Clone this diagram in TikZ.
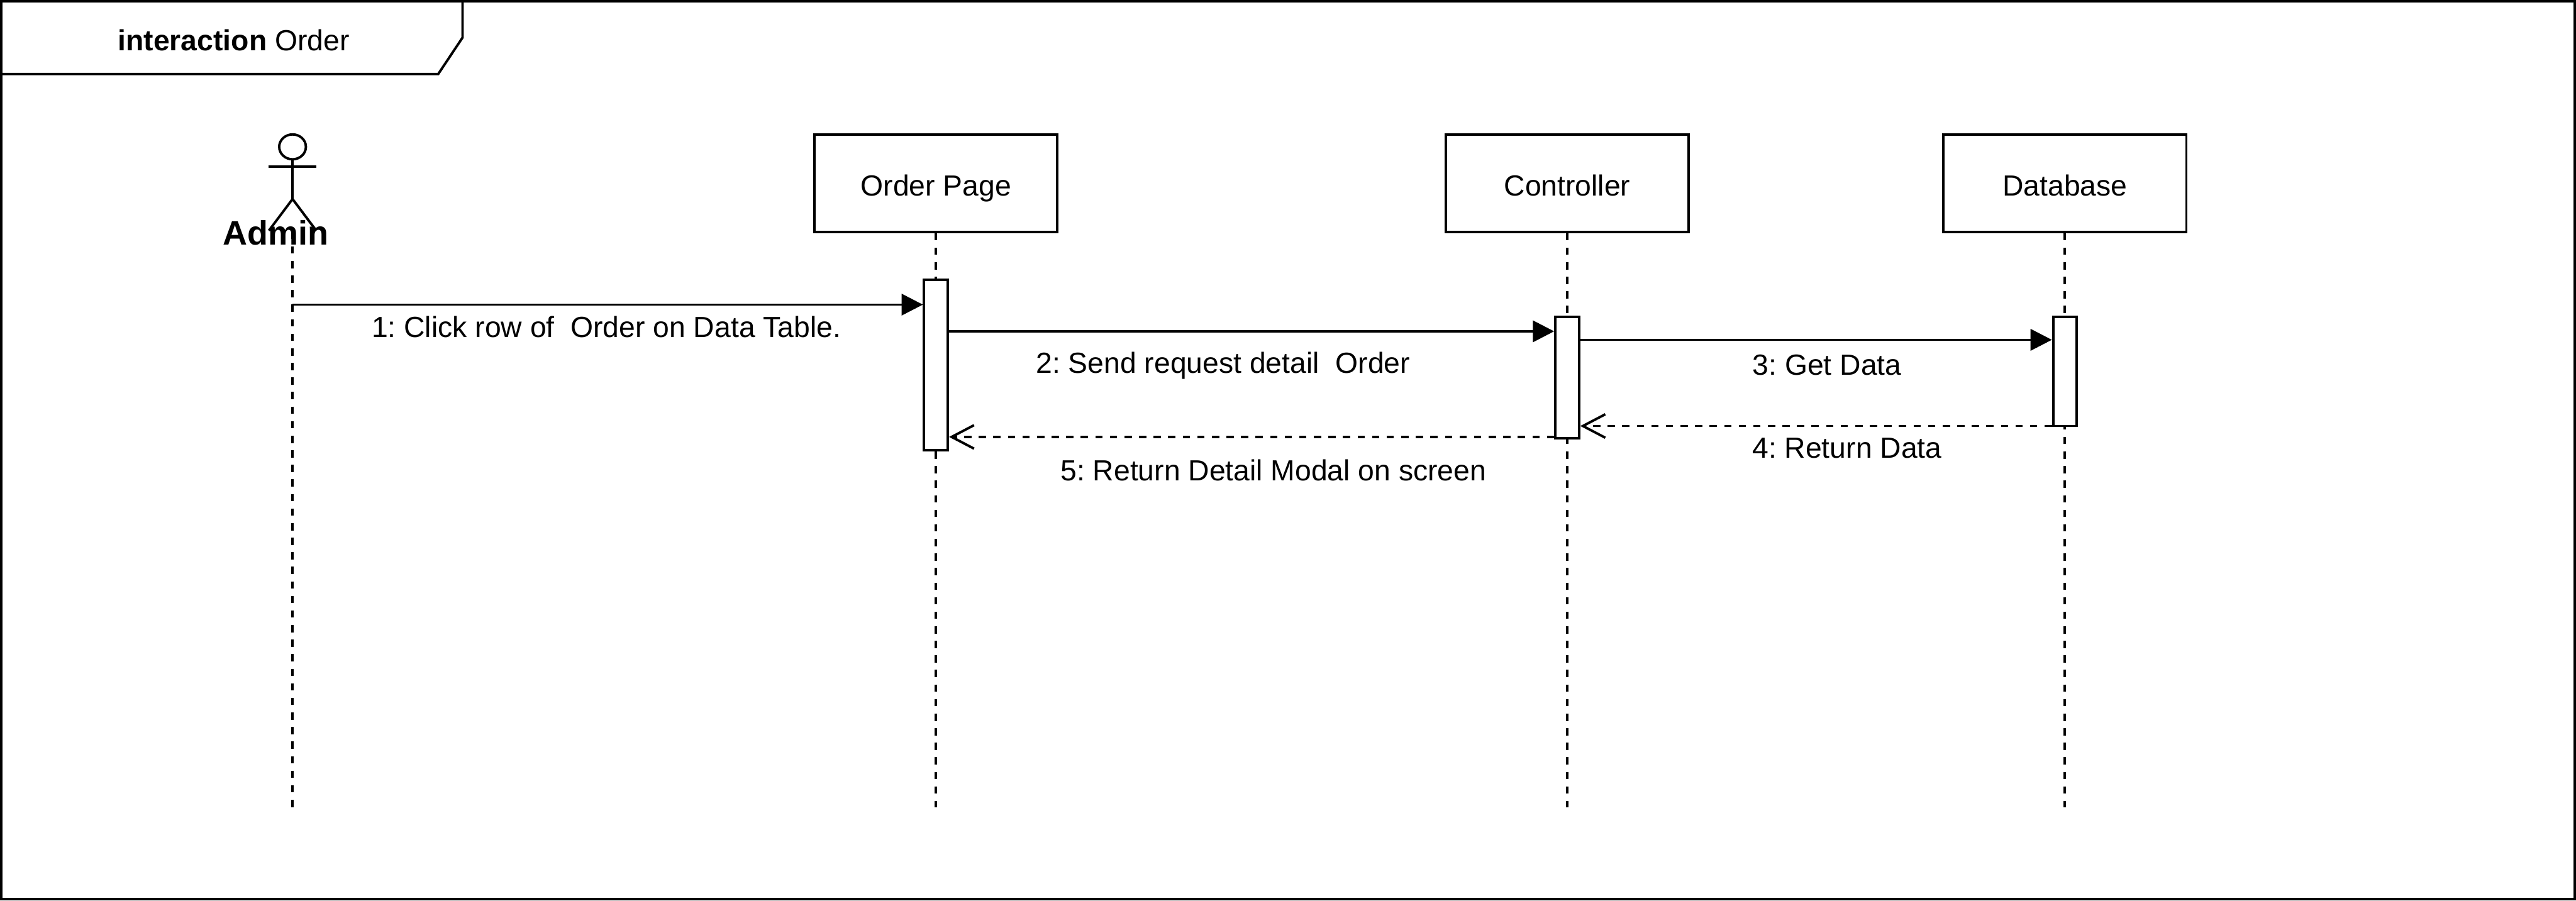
\documentclass[tikz,border=0pt]{standalone}
\usepackage{fontspec}
\setmainfont{Liberation Sans}
\usetikzlibrary{arrows.meta}
\frenchspacing

\begin{document}
\begin{tikzpicture}[
    line width=1.14pt,
    lifebox/.style={draw, rectangle, fill=white, minimum width=4.0cm, minimum height=1.60cm, inner sep=0pt, text height=0.52cm, text depth=0.1cm, font=\fontsize{13.65}{16}\selectfont},
    activation/.style={draw, rectangle, fill=white, minimum width=0.39cm, inner sep=0pt},
    lifeline/.style={dash pattern=on 0.12cm off 0.12cm},
    msglabel/.style={anchor=base, inner sep=0pt, font=\fontsize{13.65}{16}\selectfont},
    callmsg/.style={-{Triangle[length=10pt, width=10pt]}},
    returnmsg/.style={-{Straight Barb[length=10.5pt, width=11pt, line width=1.14pt]}, dash pattern=on 0.12cm off 0.12cm},
]
\useasboundingbox (0, 0) rectangle (42.44, -14.84);

% Frame
\draw (0.02, -0.02) rectangle (42.42, -14.82);
\draw (0.02, -1.22) -- (7.22, -1.22) -- (7.62, -0.62) -- (7.62, -0.02);
\node[msglabel] (frametitle) at (3.85, -0.83) {\textbf{interaction} Order};

% Actor
\draw (4.82, -2.42) ellipse (0.22 and 0.205);
\draw (4.82, -2.625) -- (4.82, -3.28);
\draw (4.42, -2.75) -- (5.21, -2.75);
\draw (4.43, -3.80) -- (4.82, -3.28) -- (5.21, -3.80);

% Lifelines
\coordinate (adminTop) at (4.82, -3.82);
\coordinate (adminEnd) at (4.82, -13.30);
\node[lifebox] (orderpage) at (15.42, -3.02) {Order Page};
\node[lifebox] (controller) at (25.82, -3.02) {Controller};
\node[lifebox] (database) at (34.02, -3.02) {Database};
\coordinate (orderEnd) at (15.42, -13.30);
\coordinate (controllerEnd) at (25.82, -13.30);
\coordinate (databaseEnd) at (34.02, -13.30);
\draw[lifeline] (adminTop) -- (adminEnd);
\draw[lifeline] (orderpage.south) -- (orderEnd);
\draw[lifeline] (controller.south) -- (controllerEnd);
\draw[lifeline] (database.south) -- (databaseEnd);

\node[anchor=base, inner sep=0pt, font=\fontsize{15.9}{18}\selectfont\bfseries] (admin) at (4.54, -4.04) {Admin};

% Activations
\node[activation, minimum height=2.81cm] (actorder) at (15.42, -6.015) {};
\node[activation, minimum height=2.0cm] (actcontroller) at (25.82, -6.22) {};
\node[activation, minimum height=1.8cm] (actdatabase) at (34.02, -6.12) {};

% Messages
\coordinate (msgone) at (4.82, -5.02);
\draw[callmsg] (msgone) -- (msgone -| actorder.west);
\coordinate (msgtwo) at (actorder.east |- 0, -5.46);
\draw[callmsg] (msgtwo) -- (msgtwo -| actcontroller.west);
\coordinate (msgthree) at (actcontroller.east |- 0, -5.60);
\draw[callmsg] (msgthree) -- (msgthree -| actdatabase.west);
\coordinate (msgfour) at (actdatabase.west |- 0, -7.02);
\draw[returnmsg] (msgfour) -- (msgfour -| actcontroller.east);
\coordinate (msgfive) at (actcontroller.west |- 0, -7.20);
\draw[returnmsg] (msgfive) -- (msgfive -| actorder.east);

% Labels
\node[msglabel] (labelone) at (9.99, -5.56) {1: Click row of~ Order on Data Table.};
\node[msglabel] (labeltwo) at (20.15, -6.15) {2: Send request detail~ Order};
\node[msglabel] (labelthree) at (30.10, -6.18) {3: Get Data};
\node[msglabel] (labelfour) at (30.43, -7.55) {4: Return Data};
\node[msglabel] (labelfive) at (20.98, -7.92) {5: Return Detail Modal on screen};

\end{tikzpicture}
\end{document}
